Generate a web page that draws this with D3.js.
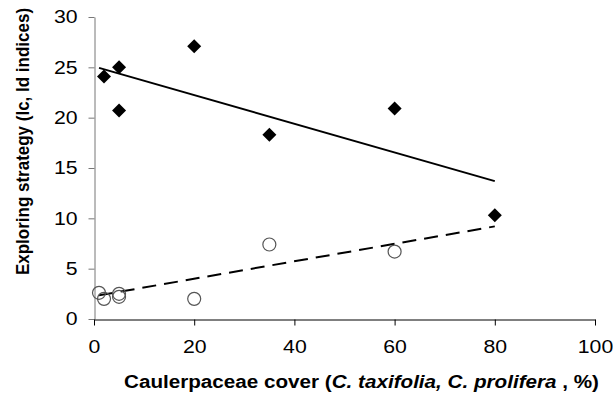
<!DOCTYPE html>
<html><head><meta charset="utf-8">
<script src="https://cdn.jsdelivr.net/npm/d3@7"></script>
<style>body{margin:0;background:#fff}svg{display:block}text{font-family:"Liberation Sans",Arial,sans-serif}</style>
</head><body><svg id="c" width="613" height="399"></svg>
<script>
const xTicks = [0,20,40,60,80,100];
const yTicks = [0,5,10,15,20,25,30];
const diamondX = [2,5,5,20,35,60,80];
const diamondY = [24.1,25.0,20.7,27.1,18.3,20.9,10.3];
const circleX = [1,2,5,5,20,35,60];
const circleY = [2.6,2.0,2.5,2.2,2.0,7.4,6.7];
const solidTrendX = [1,80];
const solidTrendY = [24.95,13.7];
const dashTrendX = [1,80];
const dashTrendY = [2.35,9.2];

const svg = d3.select("#c");
const x = d3.scaleLinear().domain([0,100]).range([94,595]);
const y = d3.scaleLinear().domain([0,30]).range([319,17]);

function stretch(sel, f){
  sel.each(function(){
    const w = this.getComputedTextLength();
    d3.select(this).attr("textLength", w*f).attr("lengthAdjust","spacingAndGlyphs");
  });
}

// y axis
const ya = svg.append("g").attr("transform","translate(94.5,0)")
  .call(d3.axisLeft(y).tickValues(yTicks).tickSize(6).tickPadding(11).tickSizeOuter(0));
ya.select(".domain").attr("stroke","#777");
ya.selectAll(".tick line").attr("stroke","#777");
ya.selectAll("text").attr("font-size",18).attr("fill","#000").call(stretch,1.18);

// x axis
const xa = svg.append("g").attr("transform","translate(0,319.5)")
  .call(d3.axisBottom(x).tickValues(xTicks).tickSize(6).tickPadding(15).tickSizeOuter(0));
xa.select(".domain").attr("stroke","#000");
xa.selectAll(".tick line").attr("stroke","#000");
xa.selectAll("text").attr("font-size",18).attr("fill","#000").call(stretch,1.18);

// trend lines
const line = d3.line().x(d=>x(d[0])).y(d=>y(d[1]));
svg.append("path").datum(solidTrendX.map((v,i)=>[v,solidTrendY[i]]))
  .attr("d",line).attr("stroke","#000").attr("stroke-width",2).attr("fill","none");
svg.append("path").datum(dashTrendX.map((v,i)=>[v,dashTrendY[i]]))
  .attr("d",line).attr("stroke","#000").attr("stroke-width",2).attr("fill","none")
  .attr("stroke-dasharray","14,8");

// circles
svg.append("g").selectAll("circle").data(circleX.map((v,i)=>[v,circleY[i]])).join("circle")
  .attr("cx",d=>x(d[0])).attr("cy",d=>y(d[1])).attr("r",6.5)
  .attr("fill","none").attr("stroke","#555").attr("stroke-width",1.2);

// diamonds
const sym = d3.symbol().type(d3.symbolSquare).size(98);
svg.append("g").selectAll("path").data(diamondX.map((v,i)=>[v,diamondY[i]])).join("path")
  .attr("d",sym).attr("transform",d=>`translate(${x(d[0])},${y(d[1])}) rotate(45)`)
  .attr("fill","#000");

// axis titles
svg.append("text").attr("transform","translate(29,141.5) rotate(-90) scale(1,1.12)")
  .attr("text-anchor","middle").attr("font-size",17).attr("font-weight","bold")
  .text("Exploring strategy (Ic, Id indices)");

const xt = svg.append("text").attr("x",361.5).attr("y",388)
  .attr("text-anchor","middle").attr("font-size",18).attr("font-weight","bold")
  .attr("textLength",475).attr("lengthAdjust","spacingAndGlyphs");
xt.append("tspan").text("Caulerpaceae cover (");
xt.append("tspan").attr("font-style","italic").text("C. taxifolia, C. prolifera");
xt.append("tspan").text(" , %)");
</script></body></html>
